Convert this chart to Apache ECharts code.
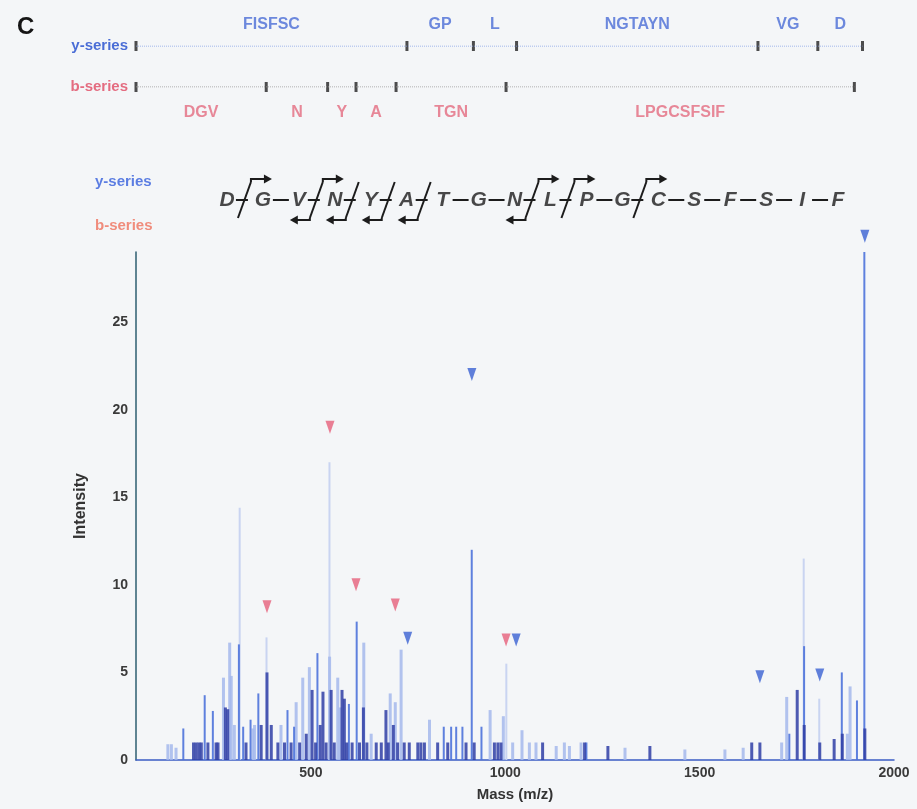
<!DOCTYPE html>
<html>
<head>
<meta charset="utf-8">
<script src="https://cdn.jsdelivr.net/npm/echarts@6/dist/echarts.min.js"></script>
<style>
html,body{margin:0;padding:0;background:#f4f6f8;}
#main{width:917px;height:809px;}
</style>
</head>
<body>
<div id="main"></div>
<script>
// peptide and fragment bookkeeping
var residues = ['D','G','V','N','Y','A','T','G','N','L','P','G','C','S','F','S','I','F'];
// bond i sits between residue i and i+1 (1 = fragment observed)
var yCleave = [1,0,1,0,0,0,0,0,1,1,0,1,0,0,0,0,0];
var bCleave = [0,0,1,1,1,1,0,0,1,0,0,0,0,0,0,0,0];

// ion ladders (m/z of the ticks) and the residues between them
var yIonTicks = [50, 747, 918, 1029, 1650, 1804, 1919];
var yIonLabels = ['FISFSC','GP','L','NGTAYN','VG','D'];
var bIonTicks = [50, 385, 543, 616, 719, 1002, 1898];
var bIonLabels = ['DGV','N','Y','A','TGN','LPGCSFSIF'];

// matched ion markers [m/z, intensity]
var yMarkers = [[749,6.95],[914,22.0],[1028,6.85],[1655,4.75],[1809,4.85],[1925,29.9]];
var bMarkers = [[387,8.75],[549,19.0],[616,10.0],[717,8.85],[1002,6.85]];

// spectrum peaks [m/z, intensity]
var darkPeaks = [[198,1.0],[205,1.0],[212,1.0],[218,1.0],[235,1.0],[256,1.0],[261,1.0],[280,3.0],[286,2.9],
  [333,1.0],[372,2.0],[387,5.0],[398,2.0],[415,1.0],[432,1.0],[449,1.0],[471,1.0],[488,1.5],[503,4.0],
  [512,1.0],[524,2.0],[531,3.9],[539,1.0],[552,4.0],[560,1.0],[580,4.0],[586,3.5],[592,1.0],[606,1.0],
  [625,1.0],[635,3.0],[644,1.0],[668,1.0],[681,1.0],[693,2.85],[699,1.0],[712,2.0],[723,1.0],[740,1.0],
  [753,1.0],[775,1.0],[783,1.0],[792,1.0],[826,1.0],[852,1.0],[899,1.0],[920,1.0],[972,1.0],[981,1.0],
  [989,1.0],[1096,1.0],[1204,1.0],[1264,0.8],[1372,0.8],[1634,1.0],[1655,1.0],[1751,4.0],[1769,2.0],
  [1809,1.0],[1846,1.2],[1867,1.5],[1925,1.8]];
var midPeaks = [[173,1.8],[228,3.7],[249,2.8],[316,6.6],[327,1.9],[346,2.3],[366,3.8],[441,2.85],[458,1.9],
  [518,6.1],[599,3.2],[619,7.9],[843,1.9],[862,1.9],[875,1.9],[891,1.9],[915,12.0],[940,1.9],[1210,1.0],
  [1732,1.5],[1770,6.5],[1867,5.0],[1906,3.4],[1925,29.0]];
var lightPeaks = [[132,0.9],[141,0.9],[153,0.7],[275,4.7],[291,6.7],[295,4.8],[303,2.0],[351,1.8],[355,2.0],
  [423,2.0],[462,3.3],[479,4.7],[496,5.3],[548,5.9],[569,4.7],[575,3.0],[636,6.7],[655,1.5],[704,3.8],
  [717,3.3],[732,6.3],[805,2.3],[961,2.85],[995,2.5],[1019,1.0],[1043,1.7],[1062,1.0],[1079,1.0],
  [1131,0.8],[1152,1.0],[1165,0.8],[1195,1.0],[1308,0.7],[1462,0.6],[1565,0.6],[1612,0.7],[1711,1.0],
  [1724,3.6],[1880,1.5],[1887,4.2]];
var faintPeaks = [[318,14.4],[549,17.0],[387,7.0],[1004,5.5],[1769,11.5],[1809,3.5]];

var massTicks = [500, 1000, 1500, 2000];

function mids(ticks, labels, row) {
  return labels.map(function (t, i) { return [(ticks[i] + ticks[i + 1]) / 2, row, t]; });
}

var FONT = "'Liberation Sans', Arial, sans-serif";
var BLUE = '#4a6dd6', PINK = '#e46c80';

function drawBond(params, api) {
  var c = api.coord([api.value(0), api.value(1)]);
  var x = c[0], y = c[1];
  var ink = '#1c1c1c';
  var ln = {stroke: ink, lineWidth: 2, fill: null};
  var head = {fill: ink};
  var kids = [];
  var yc = api.value(2), bc = api.value(3);
  if (!yc && !bc) {
    kids.push({type: 'line', shape: {x1: x - 8, y1: y, x2: x + 8, y2: y}, style: ln});
  } else {
    kids.push({type: 'line', shape: {x1: x - 9, y1: y, x2: x + 3, y2: y}, style: ln});
    kids.push({type: 'line', shape: {x1: x - 7, y1: y + 18, x2: x + 6, y2: y - 18}, style: ln});
    if (yc) {
      kids.push({type: 'polyline', shape: {points: [[x + 6, y - 18], [x + 6, y - 21], [x + 20, y - 21]]}, style: ln});
      kids.push({type: 'polygon', shape: {points: [[x + 27, y - 21], [x + 19, y - 25.5], [x + 19, y - 16.5]]}, style: head});
    }
    if (bc) {
      kids.push({type: 'polyline', shape: {points: [[x - 7, y + 18], [x - 7, y + 20], [x - 20, y + 20]]}, style: ln});
      kids.push({type: 'polygon', shape: {points: [[x - 27, y + 20], [x - 19, y + 15.5], [x - 19, y + 24.5]]}, style: head});
    }
  }
  return {type: 'group', children: kids};
}

var tri = 'path://M0,0 L10,0 L5,13 Z';

var myChart = echarts.init(document.getElementById('main'));
var option = {
  backgroundColor: '#f4f6f8',
  animation: false,
  textStyle: {fontFamily: FONT},
  title: [
    {text: 'C', left: 12, top: 10, textStyle: {fontSize: 24, fontWeight: 'bold', color: '#151515', fontFamily: FONT}},
    {text: 'y-series', left: 90, top: 169, textStyle: {fontSize: 15, fontWeight: 'bold', color: '#5b7de2', fontFamily: FONT}},
    {text: 'b-series', left: 90, top: 213, textStyle: {fontSize: 15, fontWeight: 'bold', color: '#f08c7c', fontFamily: FONT}}
  ],
  grid: [
    {left: 136, right: 23, top: 252, bottom: 49},
    {left: 136, right: 23, top: 46, height: 41},
    {left: 209, width: 647, top: 170, height: 60}
  ],
  xAxis: [
    {
      gridIndex: 0, type: 'value', min: 50, max: 2000,
      name: 'Mass (m/z)', nameLocation: 'middle', nameGap: 27,
      nameTextStyle: {fontSize: 15, fontWeight: 'bold', color: '#333', fontFamily: FONT},
      axisLine: {show: true, lineStyle: {color: '#3a5cc4', width: 1.5}},
      axisTick: {show: false},
      splitLine: {show: false},
      axisLabel: {customValues: massTicks, margin: 6, fontSize: 14, fontWeight: 'bold', color: '#3a3a3a', fontFamily: FONT,
        formatter: function (v) { return String(v); }}
    },
    {gridIndex: 1, type: 'value', min: 50, max: 2000, show: false},
    {gridIndex: 2, type: 'value', min: -0.5, max: 17.5, show: false}
  ],
  yAxis: [
    {
      gridIndex: 0, type: 'value', min: 0, max: 29, interval: 5,
      name: 'Intensity', nameLocation: 'middle', nameGap: 47,
      nameTextStyle: {fontSize: 16, fontWeight: 'bold', color: '#333', fontFamily: FONT},
      axisLine: {show: true, lineStyle: {color: '#2e5e70', width: 1.5}},
      axisTick: {show: false},
      splitLine: {show: false},
      axisLabel: {margin: 8, fontSize: 14, fontWeight: 'bold', color: '#3a3a3a', fontFamily: FONT,
        showMaxLabel: false}
    },
    {
      gridIndex: 1, type: 'category', data: ['b-series', 'y-series'], boundaryGap: false,
      axisLine: {show: false}, axisTick: {show: false},
      axisLabel: {margin: 8, fontSize: 15, fontWeight: 'bold', fontFamily: FONT,
        color: function (v) { return v === 'y-series' ? BLUE : PINK; }}
    },
    {gridIndex: 2, type: 'value', min: 0, max: 1, show: false}
  ],
  series: [
    {type: 'bar', xAxisIndex: 0, yAxisIndex: 0, data: faintPeaks, barWidth: 2, barGap: '-100%',
      itemStyle: {color: '#c9d4f1'}},
    {type: 'bar', xAxisIndex: 0, yAxisIndex: 0, data: lightPeaks, barWidth: 3, barGap: '-100%',
      itemStyle: {color: '#a5b8ec', opacity: 0.85}},
    {type: 'bar', xAxisIndex: 0, yAxisIndex: 0, data: midPeaks, barWidth: 2, barGap: '-100%',
      itemStyle: {color: '#4e73da', opacity: 0.9}},
    {type: 'bar', xAxisIndex: 0, yAxisIndex: 0, data: darkPeaks, barWidth: 3, barGap: '-100%',
      itemStyle: {color: '#2f3ea6', opacity: 0.85}},
    {type: 'scatter', xAxisIndex: 0, yAxisIndex: 0, data: bMarkers, symbol: tri, symbolSize: [9, 13],
      clip: false, itemStyle: {color: '#e6607a'}, z: 5},
    {type: 'scatter', xAxisIndex: 0, yAxisIndex: 0, data: yMarkers, symbol: tri, symbolSize: [9, 13],
      clip: false, itemStyle: {color: '#3a62d2'}, z: 5},

    // ion ladders
    {type: 'line', xAxisIndex: 1, yAxisIndex: 1, symbol: 'none',
      data: [[yIonTicks[0], 'y-series'], [yIonTicks[yIonTicks.length - 1], 'y-series']],
      lineStyle: {color: '#86a2e6', width: 1, type: 'dotted'}},
    {type: 'line', xAxisIndex: 1, yAxisIndex: 1, symbol: 'none',
      data: [[bIonTicks[0], 'b-series'], [bIonTicks[bIonTicks.length - 1], 'b-series']],
      lineStyle: {color: '#9a9a9a', width: 1, type: 'dotted'}},
    {type: 'scatter', xAxisIndex: 1, yAxisIndex: 1, symbol: 'rect', symbolSize: [3, 10],
      data: yIonTicks.map(function (m) { return [m, 'y-series']; }), itemStyle: {color: '#222'}},
    {type: 'scatter', xAxisIndex: 1, yAxisIndex: 1, symbol: 'rect', symbolSize: [3, 10],
      data: bIonTicks.map(function (m) { return [m, 'b-series']; }), itemStyle: {color: '#222'}},
    {type: 'scatter', xAxisIndex: 1, yAxisIndex: 1, symbolSize: 1, data: mids(yIonTicks, yIonLabels, 'y-series'),
      itemStyle: {color: 'transparent'},
      label: {show: true, position: 'top', distance: 13, formatter: function (p) { return p.value[2]; },
        fontSize: 16, fontWeight: 'bold', color: BLUE, fontFamily: FONT}},
    {type: 'scatter', xAxisIndex: 1, yAxisIndex: 1, symbolSize: 1, data: mids(bIonTicks, bIonLabels, 'b-series'),
      itemStyle: {color: 'transparent'},
      label: {show: true, position: 'bottom', distance: 17, formatter: function (p) { return p.value[2]; },
        fontSize: 16, fontWeight: 'bold', color: PINK, fontFamily: FONT}},

    // sequence with fragmentation sites
    {type: 'scatter', xAxisIndex: 2, yAxisIndex: 2, symbolSize: 1,
      data: residues.map(function (r, i) { return [i, 0.5, r]; }),
      itemStyle: {color: 'transparent'},
      label: {show: true, position: 'inside', formatter: function (p) { return p.value[2]; },
        fontSize: 21, fontStyle: 'italic', fontWeight: 'bold', color: '#1c1c1c', fontFamily: FONT}},
    {type: 'custom', xAxisIndex: 2, yAxisIndex: 2, renderItem: drawBond,
      data: yCleave.map(function (f, i) { return [i + 0.5, 0.5, f, bCleave[i]]; })}
  ]
};
myChart.setOption(option);
</script>
</body>
</html>
